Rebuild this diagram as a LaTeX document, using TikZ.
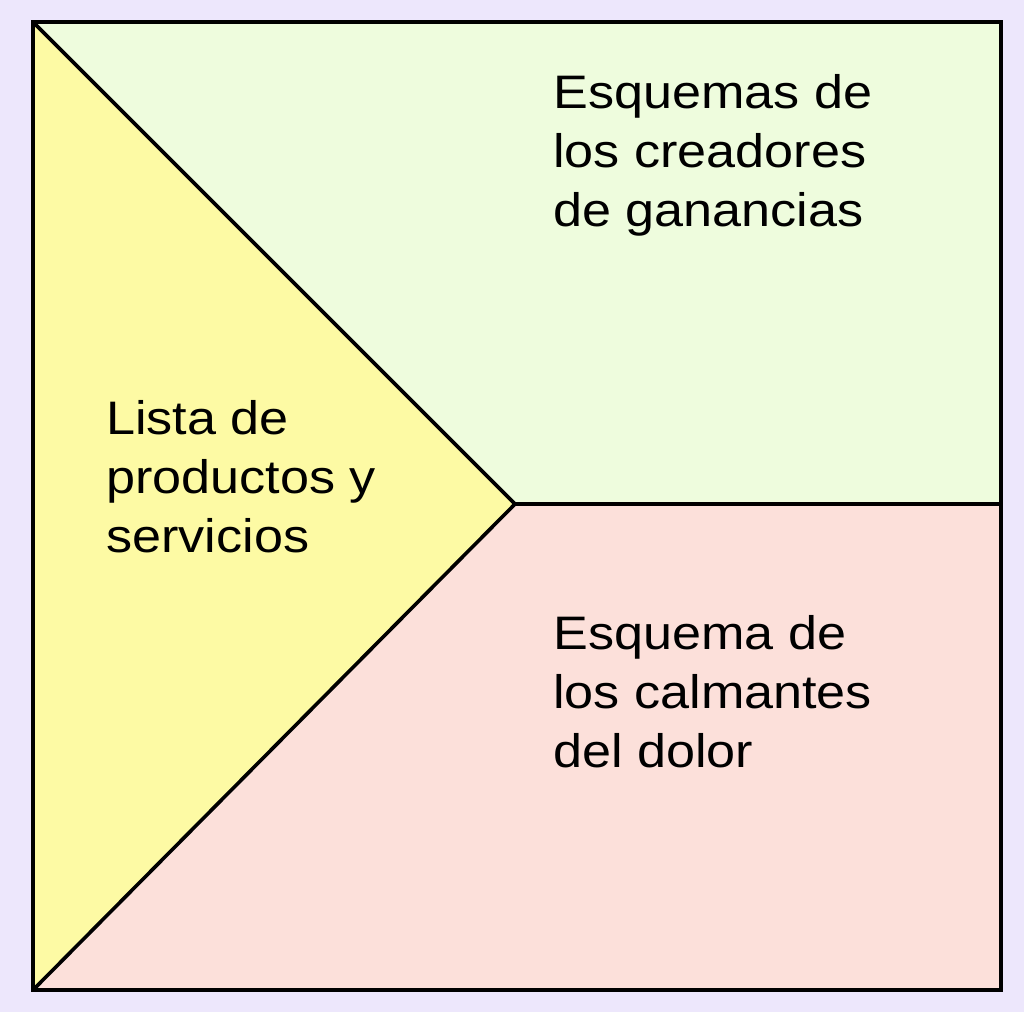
\documentclass[tikz,border=0pt]{standalone}
\usepackage{fontspec}
\setmainfont{Liberation Sans}[FakeStretch=1.11]
\definecolor{bgc}{HTML}{EDE7FC}
\definecolor{gainc}{HTML}{EEFCDD}
\definecolor{painc}{HTML}{FCE0DA}
\definecolor{prodc}{HTML}{FDFAA4}
\begin{document}
\begin{tikzpicture}[x=1pt,y=-1pt,
  edge/.style={draw=black,line width=3.6pt,line join=miter},
  label/.style={anchor=base west,align=left,inner sep=0pt,
    font=\fontsize{47}{59}\selectfont,text=black}]
\fill[bgc] (0,0) rectangle (1024,1012);
\useasboundingbox (0,0) rectangle (1024,1012);
\coordinate (tl) at (33,22);
\coordinate (tr) at (1001,22);
\coordinate (br) at (1001,990);
\coordinate (bl) at (33,990);
\coordinate (apex) at (515,504);
\coordinate (mr) at (1001,504);
\fill[gainc] (tl) -- (tr) -- (mr) -- (apex) -- cycle;
\fill[painc] (apex) -- (mr) -- (br) -- (bl) -- cycle;
\fill[prodc] (tl) -- (apex) -- (bl) -- cycle;
\draw[edge] (tl) -- (apex) -- (bl);
\draw[edge] (apex) -- (mr);
\draw[edge] (tl) -- (tr) -- (br) -- (bl) -- cycle;
\node[label] (gain) at (553,226) {Esquemas de\\los creadores\\de ganancias};
\node[label] (prod) at (106,552) {Lista de\\productos y\\servicios};
\node[label] (pain) at (553,767) {Esquema de\\los calmantes\\del dolor};
\end{tikzpicture}
\end{document}
